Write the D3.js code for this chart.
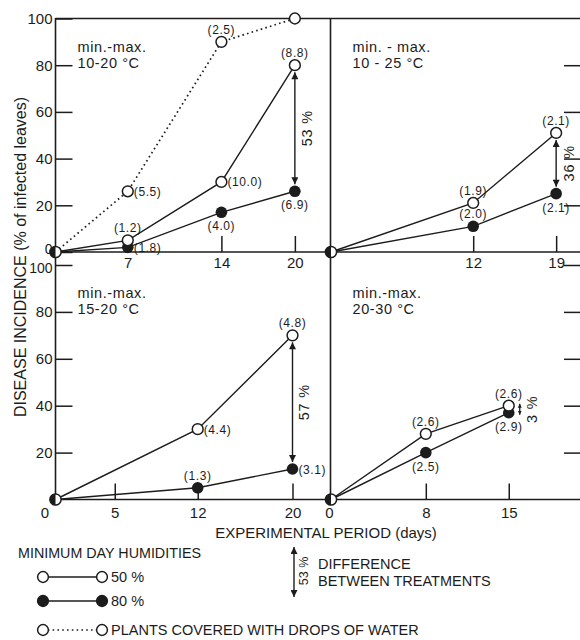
<!DOCTYPE html>
<html><head><meta charset="utf-8">
<script src="https://cdn.jsdelivr.net/npm/d3@7"></script>
<style>
html,body{margin:0;padding:0;background:#fff;}
svg{display:block;font-family:"Liberation Sans",Arial,sans-serif;}
</style></head><body>
<svg id="chart" width="580" height="640"></svg>
<script>
// ---------------- data ----------------
const panelTitles = ["min.-max.", "min. - max.", "min.-max.", "min.-max."];
const panelRanges = ["10-20 °C", "10 - 25 °C", "15-20 °C", "20-30 °C"];

const daysA = [0, 7, 14, 20];
const hum50A = [0, 5, 30, 80];
const hum80A = [0, 2, 17, 26];
const dropsA = [0, 26, 90, 100];
const lab50A = ["", "(1.2)", "(10.0)", "(8.8)"];
const lab80A = ["", "(1.8)", "(4.0)", "(6.9)"];
const labDropsA = ["", "(5.5)", "(2.5)", ""];

const daysB = [0, 12, 19];
const hum50B = [0, 21, 51];
const hum80B = [0, 11, 25];
const lab50B = ["", "(1.9)", "(2.1)"];
const lab80B = ["", "(2.0)", "(2.1)"];

const daysC = [0, 12, 20];
const hum50C = [0, 30, 70];
const hum80C = [0, 5, 13];
const lab50C = ["", "(4.4)", "(4.8)"];
const lab80C = ["", "(1.3)", "(3.1)"];

const daysD = [0, 8, 15];
const hum50D = [0, 28, 40];
const hum80D = [0, 20, 37];
const lab50D = ["", "(2.6)", "(2.6)"];
const lab80D = ["", "(2.5)", "(2.9)"];

const diffLabels = ["53 %", "36 %", "57 %", "3 %"];

const xTicksA = [7, 14, 20];
const xTicksB = [12, 19];
const xTicksC = [0, 5, 12, 20];
const xTicksD = [0, 8, 15];
const yTicksTop = [0, 20, 40, 60, 80, 100];
const yTicksBottom = [20, 40, 60, 80, 100];
const yTicksRight = [20, 40, 60, 80];
const yTicksRightBottom = [20, 40, 60, 80, 100];

const yTitle = "DISEASE INCIDENCE (% of infected leaves)";
const xTitle = "EXPERIMENTAL PERIOD (days)";
const legendHead = "MINIMUM DAY HUMIDITIES";
const legend50 = "50 %";
const legend80 = "80 %";
const legendDrops = "PLANTS COVERED WITH DROPS OF WATER";
const legendDiffNum = "53 %";
const legendDiff1 = "DIFFERENCE";
const legendDiff2 = "BETWEEN TREATMENTS";

// ---------------- layout ----------------
const ink = "#1c1c1c";
const svg = d3.select("#chart");
svg.append("rect").attr("width", 580).attr("height", 640).attr("fill", "#fff");

const k = 11.85;               // px per day
const LX = 55.5, MX = 330.5, RIGHT = 580;
const TOPB = 18.5, MIDY = 252, BOTY = 499.5;

const yTop = d3.scaleLinear().domain([0, 100]).range([MIDY, TOPB]);
const yBot = d3.scaleLinear().domain([0, 100]).range([BOTY, 265]);

const defs = svg.append("defs");
defs.append("marker").attr("id", "ah")
  .attr("viewBox", "0 0 10 10").attr("refX", 10).attr("refY", 5)
  .attr("markerUnits", "userSpaceOnUse").attr("markerWidth", 9).attr("markerHeight", 7)
  .attr("orient", "auto-start-reverse")
  .append("path").attr("d", "M0,0 L10,5 L0,10 Z").attr("fill", ink);
defs.append("marker").attr("id", "ahs")
  .attr("viewBox", "0 0 10 10").attr("refX", 10).attr("refY", 5)
  .attr("markerUnits", "userSpaceOnUse").attr("markerWidth", 4).attr("markerHeight", 5)
  .attr("orient", "auto-start-reverse")
  .append("path").attr("d", "M0,0 L10,5 L0,10 Z").attr("fill", ink);

const panels = [
  { days: daysA, s50: hum50A, s80: hum80A, l50: lab50A, l80: lab80A,
    p50: [null, "above", "right", "above"], p80: [null, "right", "below", "below"],
    x: d3.scaleLinear().domain([0, 7, 14, 20]).range([LX, LX + 6.1 * k, LX + 14 * k, LX + 20.2 * k]),
    y: yTop, xTicks: xTicksA, tx: 22, ty: 47, arrowDx: 0, labelDx: 12, small: false },
  { days: daysB, s50: hum50B, s80: hum80B, l50: lab50B, l80: lab80B,
    p50: [null, "above", "above"], p80: [null, "above", "below"],
    x: d3.scaleLinear().domain([0, 21]).range([MX + 0.5, MX + 0.5 + 21 * k]),
    y: yTop, xTicks: xTicksB, tx: 22, ty: 47, arrowDx: 0, labelDx: 13, small: false },
  { days: daysC, s50: hum50C, s80: hum80C, l50: lab50C, l80: lab80C,
    p50: [null, "right", "above"], p80: [null, "above", "right"],
    x: d3.scaleLinear().domain([0, 20]).range([LX, LX + 20 * k]),
    y: yBot, xTicks: xTicksC, tx: 22, ty: 293, arrowDx: 0, labelDx: 11, small: false },
  { days: daysD, s50: hum50D, s80: hum80D, l50: lab50D, l80: lab80D,
    p50: [null, "above", "above"], p80: [null, "below", "below"],
    x: d3.scaleLinear().domain([0, 21]).range([MX + 0.5, MX + 0.5 + 21 * k]),
    y: yBot, xTicks: xTicksD, tx: 22, ty: 293, arrowDx: 11, labelDx: 12, small: true }
];

// ---------------- frame ----------------
const frame = svg.append("g").attr("stroke", ink).attr("stroke-width", 1.6).attr("fill", "none");
frame.append("line").attr("x1", LX).attr("x2", LX).attr("y1", TOPB - 0.5).attr("y2", BOTY + 0.8);
frame.append("line").attr("x1", MX).attr("x2", MX).attr("y1", TOPB - 0.5).attr("y2", BOTY + 0.8);
frame.append("line").attr("x1", LX).attr("x2", RIGHT).attr("y1", TOPB).attr("y2", TOPB);
frame.append("line").attr("x1", LX).attr("x2", RIGHT).attr("y1", MIDY).attr("y2", MIDY);
frame.append("line").attr("x1", LX).attr("x2", RIGHT).attr("y1", BOTY).attr("y2", BOTY);

function styleAxis(g, fs) {
  g.select(".domain").remove();
  g.selectAll(".tick line").attr("stroke", ink).attr("stroke-width", 1.5);
  g.selectAll(".tick text").attr("fill", ink).attr("font-size", fs)
    .attr("font-family", "'Liberation Sans',Arial,sans-serif");
}

// y axes (left)
svg.append("g").attr("transform", `translate(${LX},0)`)
  .call(d3.axisLeft(yTop).tickValues(yTicksTop).tickSize(-17).tickPadding(3))
  .call(g => styleAxis(g, 15))
  .call(g => g.selectAll(".tick").filter(d => d === 0).select("text")
    .attr("font-size", 14).attr("dy", "0.1em"));
svg.append("g").attr("transform", `translate(${LX},0)`)
  .call(d3.axisLeft(yBot).tickValues(yTicksBottom).tickSize(-17).tickPadding(3))
  .call(g => styleAxis(g, 15))
  .call(g => g.selectAll(".tick").filter(d => d === 100).select("text")
    .attr("font-size", 14).attr("dy", "0.5em"));
// right-side ticks
svg.append("g").attr("transform", `translate(${RIGHT},0)`)
  .call(d3.axisRight(yTop).tickValues(yTicksRight).tickSize(-16).tickFormat(""))
  .call(g => styleAxis(g, 15));
svg.append("g").attr("transform", `translate(${RIGHT},0)`)
  .call(d3.axisRight(yBot).tickValues(yTicksRightBottom).tickSize(-16).tickFormat(""))
  .call(g => styleAxis(g, 15));

// x axes
panels.forEach((p, i) => {
  const y0 = p.y(0);
  const g = svg.append("g").attr("transform", `translate(0,${y0})`)
    .call(d3.axisBottom(p.x).tickValues(p.xTicks).tickSize(-16).tickPadding(i < 2 ? 5 : 8).tickFormat(d3.format("d")))
    .call(g => styleAxis(g, 15));
  g.selectAll(".tick").filter(d => d === 0).select("line").remove();
  g.selectAll(".tick").filter(d => d === 0).select("text").attr("dx", i === 2 ? -11 : -2);
});

// ---------------- panels ----------------
const line = (p) => d3.line().x(d => p.x(d[0])).y(d => p.y(d[1]));

function labelAt(g, txt, where, cx, cy) {
  if (!txt || !where) return;
  const t = g.append("text").text(txt).attr("fill", ink).attr("font-size", 12)
    .attr("letter-spacing", 0.6).attr("dominant-baseline", "central");
  if (where === "above") t.attr("x", cx).attr("y", cy - 12).attr("text-anchor", "middle");
  else if (where === "below") t.attr("x", cx).attr("y", cy + 14).attr("text-anchor", "middle");
  else t.attr("x", cx + 6).attr("y", cy + 0.5).attr("text-anchor", "start");
}

panels.forEach((p, i) => {
  const g = svg.append("g");
  const pts50 = p.days.map((d, j) => [d, p.s50[j]]);
  const pts80 = p.days.map((d, j) => [d, p.s80[j]]);

  // annotation
  const ax = (i % 2 === 0 ? LX : MX) + p.tx;
  g.append("text").attr("x", ax).attr("y", p.ty).attr("dominant-baseline", "central")
    .attr("font-size", 14.5).attr("letter-spacing", 0.6).attr("fill", ink).text(panelTitles[i]);
  g.append("text").attr("x", ax).attr("y", p.ty + 16).attr("dominant-baseline", "central")
    .attr("font-size", 14.5).attr("letter-spacing", 0.6).attr("fill", ink).text(panelRanges[i]);

  // drops series (panel A only)
  if (i === 0) {
    const ptsD = daysA.map((d, j) => [d, dropsA[j]]);
    g.append("path").attr("d", line(p)(ptsD)).attr("fill", "none").attr("stroke", ink)
      .attr("stroke-width", 1.7).attr("stroke-dasharray", "1.6,3.2");
  }
  g.append("path").attr("d", line(p)(pts50)).attr("fill", "none").attr("stroke", ink).attr("stroke-width", 1.4);
  g.append("path").attr("d", line(p)(pts80)).attr("fill", "none").attr("stroke", ink).attr("stroke-width", 1.4);

  // difference arrow at last day
  const last = p.days.length - 1;
  const ax2 = p.x(p.days[last]) + p.arrowDx;
  const yo = p.y(p.s50[last]), yf = p.y(p.s80[last]);
  if (!p.small) {
    g.append("line").attr("x1", ax2).attr("x2", ax2).attr("y1", yo + 7).attr("y2", yf - 7)
      .attr("stroke", ink).attr("stroke-width", 1.4)
      .attr("marker-start", "url(#ah)").attr("marker-end", "url(#ah)");
  } else {
    g.append("line").attr("x1", ax2).attr("x2", ax2).attr("y1", yo - 2).attr("y2", yf + 2)
      .attr("stroke", ink).attr("stroke-width", 1.3)
      .attr("marker-start", "url(#ahs)").attr("marker-end", "url(#ahs)");
  }
  const ly = (yo + yf) / 2;
  g.append("text").attr("transform", `translate(${ax2 + p.labelDx},${ly}) rotate(-90)`)
    .attr("text-anchor", "middle").attr("dominant-baseline", "central")
    .attr("font-size", 14.5).attr("letter-spacing", 0.8).attr("fill", ink).text(diffLabels[i]);

  // filled markers (80 %)
  pts80.forEach((d, j) => {
    if (j === 0) return;
    g.append("circle").attr("cx", p.x(d[0])).attr("cy", p.y(d[1])).attr("r", 5.8).attr("fill", ink);
  });
  // open markers (50 %)
  pts50.forEach((d, j) => {
    if (j === 0) return;
    g.append("circle").attr("cx", p.x(d[0])).attr("cy", p.y(d[1])).attr("r", 5.4)
      .attr("fill", "#fff").attr("stroke", ink).attr("stroke-width", 1.5);
  });
  if (i === 0) {
    daysA.forEach((d, j) => {
      if (j === 0) return;
      g.append("circle").attr("cx", p.x(d)).attr("cy", p.y(dropsA[j])).attr("r", 5.4)
        .attr("fill", "#fff").attr("stroke", ink).attr("stroke-width", 1.5);
    });
  }
  // origin marker: half filled
  const ox = p.x(0), oy = p.y(0);
  g.append("circle").attr("cx", ox).attr("cy", oy).attr("r", 5.6)
    .attr("fill", "#fff").attr("stroke", ink).attr("stroke-width", 1.5);
  g.append("path").attr("d", d3.arc()({ innerRadius: 0, outerRadius: 5.8, startAngle: Math.PI, endAngle: 2 * Math.PI }))
    .attr("transform", `translate(${ox},${oy})`).attr("fill", ink);

  // value labels
  pts50.forEach((d, j) => labelAt(g, p.l50[j], p.p50[j], p.x(d[0]), p.y(d[1])));
  pts80.forEach((d, j) => labelAt(g, p.l80[j], p.p80[j], p.x(d[0]), p.y(d[1])));
  if (i === 0) {
    const pd = [null, "right", "above", null];
    daysA.forEach((d, j) => labelAt(g, labDropsA[j], pd[j], p.x(d), p.y(dropsA[j])));
  }
});

// ---------------- titles ----------------
svg.append("text").attr("transform", `translate(20,257) rotate(-90)`)
  .attr("text-anchor", "middle").attr("dominant-baseline", "central")
  .attr("font-size", 16).attr("fill", ink).text(yTitle);
svg.append("text").attr("x", 326).attr("y", 532).attr("text-anchor", "middle")
  .attr("dominant-baseline", "central").attr("font-size", 15).attr("fill", ink).text(xTitle);

// ---------------- legend ----------------
const lg = svg.append("g").attr("fill", ink);
lg.append("text").attr("x", 18).attr("y", 553).attr("dominant-baseline", "central")
  .attr("font-size", 14.3).text(legendHead);
const rows = [
  { y: 577, fill: "#fff", dash: null, text: legend50 },
  { y: 601, fill: ink, dash: null, text: legend80 },
  { y: 630, fill: "#fff", dash: "1.6,3.2", text: legendDrops }
];
rows.forEach(r => {
  lg.append("line").attr("x1", 43).attr("x2", 102).attr("y1", r.y).attr("y2", r.y)
    .attr("stroke", ink).attr("stroke-width", r.dash ? 1.7 : 1.4).attr("stroke-dasharray", r.dash);
  [43, 102].forEach(cx => {
    lg.append("circle").attr("cx", cx).attr("cy", r.y).attr("r", 5.4)
      .attr("fill", r.fill).attr("stroke", ink).attr("stroke-width", 1.5);
  });
  lg.append("text").attr("x", 111).attr("y", r.y).attr("dominant-baseline", "central")
    .attr("font-size", 14.5).text(r.text);
});
lg.append("line").attr("x1", 294).attr("x2", 294).attr("y1", 547).attr("y2", 597)
  .attr("stroke", ink).attr("stroke-width", 1.4)
  .attr("marker-start", "url(#ah)").attr("marker-end", "url(#ah)");
lg.append("text").attr("transform", "translate(304,571) rotate(-90)")
  .attr("text-anchor", "middle").attr("dominant-baseline", "central")
  .attr("font-size", 12.5).text(legendDiffNum);
lg.append("text").attr("x", 318).attr("y", 564).attr("dominant-baseline", "central")
  .attr("font-size", 14.5).text(legendDiff1);
lg.append("text").attr("x", 318).attr("y", 581).attr("dominant-baseline", "central")
  .attr("font-size", 14.5).text(legendDiff2);
</script>
</body></html>
